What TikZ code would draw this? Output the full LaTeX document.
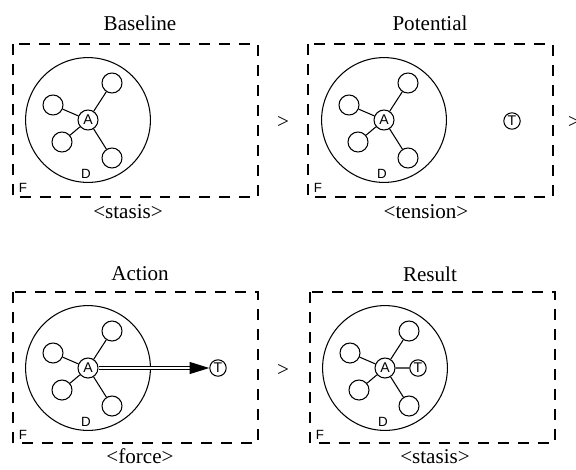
\documentclass[tikz,border=0pt]{standalone}
\usepackage{fontspec}
\setmainfont{Liberation Serif}
\setsansfont{Liberation Sans}
\usetikzlibrary{arrows.meta}

\tikzset{
    frame/.style={draw, line width=1.4pt, dash pattern=on 7.8pt off 6.4pt},
    field/.style={circle, draw, line width=0.75pt, minimum size=3.12cm},
    agent/.style={circle, draw, line width=0.75pt, minimum size=0.5cm, inner sep=0pt,
        font=\sffamily\fontsize{10}{10}\selectfont},
    member/.style={circle, draw, line width=0.75pt, minimum size=0.5cm},
    target/.style={circle, draw, line width=0.75pt, minimum size=0.41cm, inner sep=0pt,
        font=\sffamily\fontsize{10}{10}\selectfont},
    tag/.style={font=\sffamily\fontsize{9.5}{10}\selectfont},
    heading/.style={anchor=base, font=\fontsize{15}{18}\selectfont},
    stepsign/.style={font=\fontsize{15}{17}\selectfont}
}

\begin{document}
\begin{tikzpicture}[x=0.025cm, y=-0.025cm]
    \useasboundingbox (0,0) rectangle (576,469);

    % Baseline
    \begin{scope}[shift={(88,120)}]
        \draw[frame] (-75,-76) rectangle (170,77);
        \node[field] (d1) at (0,0) {};
        \node[agent]  (a1) at (0,0) {A};
        \node[member] (n11) at (24,-37) {};
        \node[member] (n12) at (-35,-15) {};
        \node[member] (n13) at (-26,22) {};
        \node[member] (n14) at (24,38) {};
        \node[tag] (dl1) at (-2,54) {D};
        \node[tag] (fl1) at (-65,68) {F};
        \node[heading] (h1) at (52,-90) {Baseline};
        \node[heading] (s1) at (40,98) {<stasis>};
        \path[draw, line width=0.75pt]
            (a1) -- (n11) (a1) -- (n12) (a1) -- (n13) (a1) -- (n14);
    \end{scope}

    % Potential
    \begin{scope}[shift={(384,120)}]
        \draw[frame] (-76,-76) rectangle (169,77);
        \node[field] (d2) at (0,0) {};
        \node[agent]  (a2) at (0,0) {A};
        \node[member] (n21) at (24,-37) {};
        \node[member] (n22) at (-35,-15) {};
        \node[member] (n23) at (-26,22) {};
        \node[member] (n24) at (24,38) {};
        \node[target] (t2) at (128,1) {T};
        \node[tag] (dl2) at (-2,54) {D};
        \node[tag] (fl2) at (-66,68) {F};
        \node[heading] (h2) at (46,-90) {Potential};
        \node[heading] (s2) at (42,98) {<tension>};
        \path[draw, line width=0.75pt]
            (a2) -- (n21) (a2) -- (n22) (a2) -- (n23) (a2) -- (n24);
    \end{scope}

    % Action
    \begin{scope}[shift={(88,368)}]
        \draw[frame] (-75,-76) rectangle (170,75);
        \node[field] (d3) at (0,0) {};
        \node[agent]  (a3) at (0,0) {A};
        \node[member] (n31) at (24,-37) {};
        \node[member] (n32) at (-35,-15) {};
        \node[member] (n33) at (-26,22) {};
        \node[member] (n34) at (24,38) {};
        \node[target] (t3) at (130,0) {T};
        \node[tag] (dl3) at (-2,54) {D};
        \node[tag] (fl3) at (-65,67) {F};
        \node[heading] (h3) at (52,-88) {Action};
        \node[heading] (s3) at (52,95) {<force>};
        \path[draw, line width=0.75pt]
            (a3) -- (n31) (a3) -- (n32) (a3) -- (n33) (a3) -- (n34);
        \draw[double, double distance=1.3pt, line width=0.75pt,
            -{Triangle[length=14pt, width=8.5pt]}] (a3) -- (t3);
    \end{scope}

    % Result
    \begin{scope}[shift={(385,368)}]
        \draw[frame] (-75,-76) rectangle (170,75);
        \node[field] (d4) at (0,0) {};
        \node[agent]  (a4) at (0,0) {A};
        \node[member] (n41) at (24,-37) {};
        \node[member] (n42) at (-35,-15) {};
        \node[member] (n43) at (-26,22) {};
        \node[member] (n44) at (24,38) {};
        \node[target] (t4) at (33,0) {T};
        \node[tag] (dl4) at (-2,54) {D};
        \node[tag] (fl4) at (-65,67) {F};
        \node[heading] (h4) at (45,-87) {Result};
        \node[heading] (s4) at (50,95) {<stasis>};
        \path[draw, line width=0.75pt]
            (a4) -- (n41) (a4) -- (n42) (a4) -- (n43) (a4) -- (n44) (a4) -- (t4);
    \end{scope}

    \node[stepsign] (g1) at (283,122) {>};
    \node[stepsign] (g2) at (574,122) {>};
    \node[stepsign] (g3) at (283,370) {>};
\end{tikzpicture}
\end{document}
